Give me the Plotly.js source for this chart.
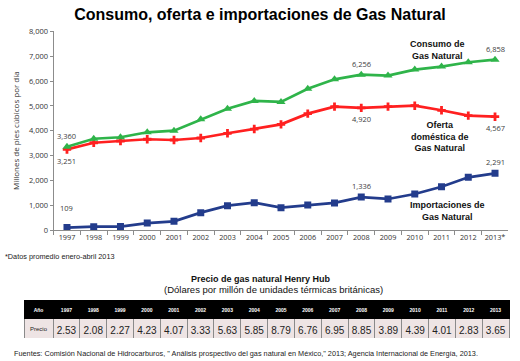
<!DOCTYPE html>
<html><head><meta charset="utf-8">
<script src="https://cdn.plot.ly/plotly-3.0.1.min.js"></script>
<style>html,body{margin:0;padding:0;background:#fff}</style>
</head><body><div id="chart" style="width:520px;height:361px"></div>
<script>
const years = ['1997','1998','1999','2000','2001','2002','2003','2004','2005','2006','2007','2008','2009','2010','2011','2012','2013*'];
const consumo = [3360,3680,3740,3940,4005,4460,4890,5200,5160,5690,6070,6256,6220,6460,6580,6755,6858];
const oferta = [3251,3520,3590,3660,3630,3710,3900,4070,4260,4690,4970,4920,4970,5010,4825,4610,4567];
const importaciones = [109,145,150,290,360,710,990,1110,910,1020,1100,1336,1260,1460,1750,2130,2291];
const tableYears = ['1997','1998','1999','2000','2001','2002','2003','2004','2005','2006','2007','2008','2009','2010','2011','2012','2013'];
const precios = [2.53,2.08,2.27,4.23,4.07,3.33,5.63,5.85,8.79,6.76,6.95,8.85,3.89,4.39,4.01,2.83,3.65];

// labelled points: [series, index, yshift]
const labelled = [
  [consumo, 0, 11], [oferta, 0, -12], [importaciones, 0, 20],
  [consumo, 11, 11], [oferta, 11, -11], [importaciones, 11, 11],
  [consumo, 16, 11], [oferta, 16, -11], [importaciones, 16, 11]
];

const F = 'Liberation Sans, Arial, sans-serif';
const C = 'Open Sans, DejaVu Sans, sans-serif';

const traces = [
  {x: years, y: importaciones, type:'scatter', mode:'lines+markers', line:{color:'#233c8c', width:2.7}, marker:{symbol:'square', size:7, color:'#233c8c'}, hoverinfo:'none'},
  {x: years, y: oferta, type:'scatter', mode:'lines+markers', line:{color:'#ff2020', width:2.7}, marker:{symbol:'cross', size:7, color:'#ff2020'}, hoverinfo:'none'},
  {x: years, y: consumo, type:'scatter', mode:'lines+markers', line:{color:'#2fb44a', width:2.7}, marker:{symbol:'triangle-up', size:8, color:'#2fb44a'}, hoverinfo:'none'},
  {type:'table', domain:{x:[24/520, 509/520], y:[23/361, 61/361]},
   columnwidth:[29].concat(tableYears.map(()=>26.8)),
   header:{values:['Año'].concat(tableYears), fill:{color:'#000'}, line:{color:'#000', width:1}, height:18, align:'center', font:{family:F, size:5, color:'#fff', weight:'bold'}},
   cells:{values:[['Precio']].concat(precios.map(p=>[p.toFixed(2)])), fill:{color:'#eee4e4'}, line:{color:'#8a8a8a', width:1}, height:20, align:'center', font:{family:F, size:[6].concat(precios.map(()=>10)), color:'#222'}}
  }
];

const ann = labelled.map(([s,i,sh]) => ({x: i, y: s[i], xref:'x', yref:'y', xanchor:'center', yanchor:'middle', text: s[i].toLocaleString('en-US'), showarrow:false, yshift: sh, font:{family:C, size:7.5, color:'#404040'}}));

const P = (x, y, text, font, extra) => Object.assign({x: x/520, y: 1 - y/361, xref:'paper', yref:'paper', xanchor:'center', yanchor:'middle', text, showarrow:false, font}, extra || {});

ann.push(
  P(437, 50, '<b>Consumo de<br>Gas Natural</b>', {family:F, size:9, color:'#111'}),
  P(440, 137, '<b>Oferta<br>doméstica de<br>Gas Natural</b>', {family:F, size:9, color:'#111'}),
  P(447, 211, '<b>Importaciones de<br>Gas Natural</b>', {family:F, size:9, color:'#111'}),
  P(15, 131, 'Millones de pies cúbicos por día', {family:C, size:8, color:'#333'}, {textangle:-90}),
  P(3, 256, '*Datos promedio enero-abril 2013', {family:F, size:7.3, color:'#222'}, {xanchor:'left'}),
  P(261, 279, '<b>Precio de gas natural Henry Hub</b>', {family:F, size:9, color:'#111'}),
  P(273, 289, '(Dólares por millón de unidades térmicas británicas)', {family:F, size:9.5, color:'#111'}),
  P(12, 353, 'Fuentes: Comisión Nacional de Hidrocarburos, " Análisis prospectivo del gas natural en México," 2013; Agencia Internacional de Energía, 2013.', {family:F, size:7.3, color:'#222'}, {xanchor:'left'})
);

const layout = {
  width:520, height:361, autosize:false,
  margin:{l:0, r:0, t:0, b:0},
  paper_bgcolor:'#fff', plot_bgcolor:'#fff',
  showlegend:false,
  title:{text:'<b>Consumo, oferta e importaciones de Gas Natural</b>', x:0.5, xanchor:'center', y:1-14/361, yanchor:'middle', font:{family:F, size:16, color:'#000'}},
  xaxis:{type:'category', domain:[53.6/520, 508.4/520], range:[-0.5,16.5], showline:true, linecolor:'#8c8c8c', linewidth:1, ticks:'outside', tickson:'boundaries', ticklen:4, tickcolor:'#8c8c8c', showgrid:false, zeroline:false, tickangle:0, tickfont:{family:C, size:7.3, color:'#333'}},
  yaxis:{domain:[130.7/361, 329.7/361], range:[0,8000], dtick:1000, tickformat:',', showline:true, linecolor:'#8c8c8c', linewidth:1, ticks:'outside', ticklen:3, tickcolor:'#8c8c8c', showgrid:false, zeroline:false, tickfont:{family:C, size:7.5, color:'#333'}},
  annotations: ann
};

Plotly.newPlot('chart', traces, layout, {displayModeBar:false, staticPlot:true});
</script></body></html>
